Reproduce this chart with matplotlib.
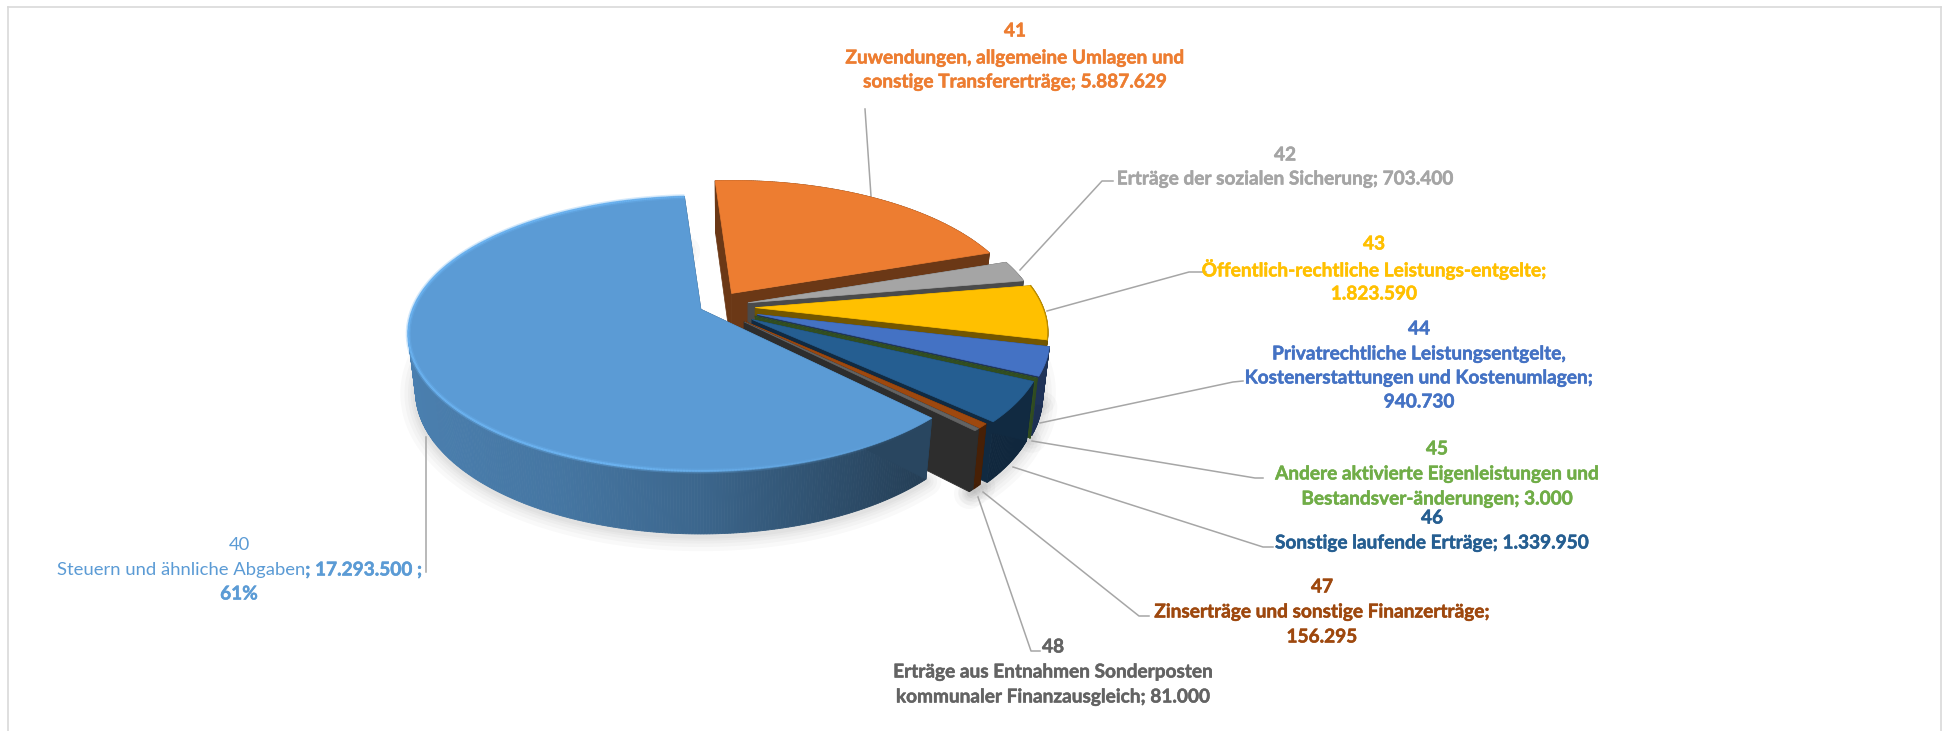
"""Exploded 3D-look pie of Ertraege (codes 40-48), drawn on a pixel-sized axes."""

import numpy as np
import matplotlib
matplotlib.use("Agg")
import matplotlib.pyplot as plt
import matplotlib.patheffects as pe

codes = ["40", "41", "42", "43", "44", "45", "46", "47", "48"]
values = [17293500, 5887629, 703400, 1823590, 940730, 3000, 1339950, 156295, 81000]
colors = ["#5B9BD5", "#ED7D31", "#A5A5A5", "#FFC000", "#4472C4",
          "#70AD47", "#255E91", "#9E480E", "#636363"]

label_41 = ["41", "Zuwendungen, allgemeine Umlagen und", "sonstige Transfererträge; 5.887.629"]
label_42 = ["42", "Erträge der sozialen Sicherung; 703.400"]
label_43 = ["43", "Öffentlich-rechtliche Leistungs-entgelte;", "1.823.590"]
label_44 = ["44", "Privatrechtliche Leistungsentgelte,", "Kostenerstattungen und Kostenumlagen;", "940.730"]
label_45 = ["45", "Andere aktivierte Eigenleistungen und", "Bestandsver-änderungen; 3.000"]
label_46 = ["46", "Sonstige laufende Erträge; 1.339.950"]
label_47 = ["47", "Zinserträge und sonstige Finanzerträge;", "156.295"]
label_48 = ["48", "Erträge aus Entnahmen Sonderposten", "kommunaler Finanzausgleich; 81.000"]

# layout, in pixels of the 1946x731 picture
label_x = [1015, 1285, 1374, 1419, 1437, 1432, 1322, 1053]
label_y = [[31, 58, 82], [155, 179], [244, 269, 294], [329, 354, 378, 402],
           [449, 474, 499], [518, 543], [587, 612, 637], [647, 672, 697]]
leaders = [
    [(865, 109), (871, 196)],
    [(1113, 181), (1102, 181), (1020, 270)],
    [(1206, 272), (1189, 272), (1047, 311)],
    [(1243, 381), (1233, 382), (1040, 423)],
    [(1263, 478), (1255, 478), (1032, 441)],
    [(1273, 547), (1263, 547), (1013, 467)],
    [(1149, 616), (1139, 616), (983, 492)],
    [(1040, 651), (1031, 651), (978, 497)],
    [(426, 437), (426, 572)],
]
explode = [0.042, 0.125, 0.13, 0.15, 0.165, 0.165, 0.165, 0.155, 0.155]

FONT = "Lato"
FS = 13.7
FS_REG = 13.3
CX, CY = 712, 307      # pie centre
A, B, K = 288, 133, 0.178   # disc half axes and perspective strength
DEPTH = 57
START = 135.6          # degrees clockwise from 12 o'clock


def project(u, v):
    den = 1 + K * v
    return A * u / den, -B * v / den


fig = plt.figure(figsize=(19.46, 7.31), dpi=100)
ax = fig.add_axes([0, 0, 1, 1])
ax.set_xlim(0, 1946)
ax.set_ylim(731, 0)
ax.axis("off")

# chart frame
ax.plot([8, 8], [731, 7], color="#D9D9D9", lw=1.2)
ax.plot([8, 1941], [7, 7], color="#D9D9D9", lw=1.2)
ax.plot([1941, 1941], [7, 731], color="#D9D9D9", lw=1.2)

sweep = np.array(values) / sum(values) * 360
edges = START + np.concatenate([[0], np.cumsum(sweep)])


def slice_geometry(i):
    th = np.deg2rad(np.linspace(edges[i], edges[i + 1], max(2, int(sweep[i] * 2) + 2)))
    mid = np.deg2rad((edges[i] + edges[i + 1]) / 2)
    ex, ey = project(explode[i] * np.sin(mid), explode[i] * np.cos(mid))
    ax0, ay0 = CX + ex, CY + ey
    px, py = project(np.sin(th), np.cos(th))
    drop = DEPTH / np.sqrt(1 + K * np.cos(th))
    return ax0, ay0, ax0 + px, ay0 + py, ax0 + 0.975 * px, ay0 + py + drop


def shade(rgb, f):
    return tuple(np.array(matplotlib.colors.to_rgb(rgb)) * f)


# soft shadow under the body
for i in [0, 4, 6, 7, 8, 3]:
    a0, b0, xt, yt, xb, yb = slice_geometry(i)
    for lw in [22, 16, 11, 7, 4]:
        ax.plot(xb, yb + 2, color="black", alpha=0.022, lw=lw, solid_capstyle="round", zorder=1)

order = [1, 2, 3, 4, 5, 6, 7, 8, 0]
for n, i in enumerate(order):
    z = 2 + n
    a0, b0, xt, yt, xb, yb = slice_geometry(i)
    col = colors[i]
    # outer wall, cut in narrow strips so the shading runs along x
    for j in range(len(xt) - 1):
        xm = (xt[j] + xt[j + 1]) / 2
        f = np.interp(xm, [408, 560, 700, 930], [0.82, 0.76, 0.66, 0.40]) if i == 0 else 0.42
        c = shade(col, f)
        ax.fill([xt[j], xt[j + 1], xb[j + 1], xb[j]], [yt[j], yt[j + 1], yb[j + 1], yb[j]],
                color=c, lw=0.6, zorder=z)
    # radial walls
    f_side = 0.45
    for k in [0, -1]:
        ax.fill([a0, xt[k], xb[k], a0], [b0, yt[k], yb[k], b0 + DEPTH],
                color=shade(col, f_side), lw=0.5, zorder=z)
    # top surface
    ax.fill(np.r_[a0, xt], np.r_[b0, yt], color=col, lw=0.5, zorder=z)
    # bevel along the outer rim
    if i == 0:
        for j in range(len(xt) - 1):
            al = np.interp((xt[j] + xt[j + 1]) / 2, [408, 620, 800, 930], [0.9, 0.9, 0.35, 0.0])
            ax.plot(xt[j:j + 2], yt[j:j + 2], color="#6CB4F2", alpha=al * 0.35, lw=3.6,
                    solid_capstyle="butt", zorder=z)
            ax.plot(xt[j:j + 2], yt[j:j + 2], color="#6CB4F2", alpha=al, lw=1.6,
                    solid_capstyle="butt", zorder=z)
    elif i == 3:
        ax.plot(xt, yt, color=shade(col, 0.72), lw=0.9, zorder=z)
    if i == 5:
        ax.plot([a0, xt[-1], xb[-1]], [b0, yt[-1], yb[-1]], color="#2F4A22", lw=1.3, zorder=z)

# leader lines
for pts in leaders:
    xs, ys = zip(*pts)
    ax.plot(xs, ys, color="#A6A6A6", lw=1.1, zorder=1)

# data labels
label_lines = [label_41, label_42, label_43, label_44, label_45, label_46, label_47, label_48]
for lines, x, ys, col in zip(label_lines, label_x, label_y, colors[1:]):
    for line, y in zip(lines, ys):
        t = ax.text(x, y, line, ha="center", va="center", color=col,
                    fontsize=FS, fontweight="bold", family=FONT)
        t.set_path_effects([pe.withStroke(linewidth=0.35, foreground=col)])

# slice 40 mixes regular and bold inside one line
col40 = colors[0]
ax.text(239, 545, codes[0], ha="center", va="center", color=col40, fontsize=FS_REG, family=FONT)
t61 = ax.text(239, 594, "61%", ha="center", va="center", color=col40, fontsize=FS,
              fontweight="bold", family=FONT)
t61.set_path_effects([pe.withStroke(linewidth=0.35, foreground=col40)])
left = ax.text(57, 570, "Steuern und ähnliche Abgaben", ha="left", va="center", color=col40,
               fontsize=FS_REG, family=FONT)
bb = left.get_window_extent(fig.canvas.get_renderer())
t_val = ax.text(bb.x1, 570, "; 17.293.500 ;", ha="left", va="center", color=col40, fontsize=FS,
                fontweight="bold", family=FONT)
t_val.set_path_effects([pe.withStroke(linewidth=0.35, foreground=col40)])

fig.savefig("out.png", dpi=100)
